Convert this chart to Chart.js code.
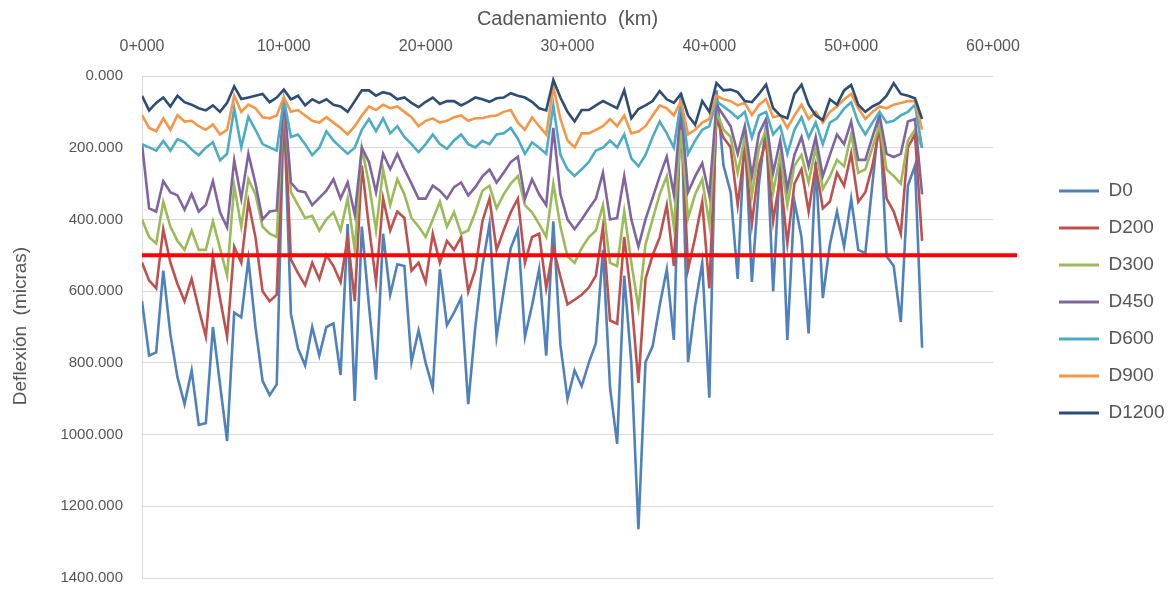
<!DOCTYPE html>
<html>
<head>
<meta charset="utf-8">
<title>Deflexiones</title>
<script src="https://cdn.jsdelivr.net/npm/chart.js@4.4.1/dist/chart.umd.min.js"></script>
<style>
  html, body { margin: 0; padding: 0; background: #ffffff; }
  #wrap { position: relative; width: 1174px; height: 606px; }
</style>
</head>
<body>
<div id="wrap"><canvas id="chart" width="1174" height="606"></canvas></div>
<script>
// Chainage of each measuring station (km)
const chainage = [
  0, 0.5, 1, 1.5, 2, 2.5, 3, 3.5, 4, 4.5,
  5, 5.5, 6, 6.5, 7, 7.5, 8, 8.5, 9, 9.5,
  10, 10.5, 11, 11.5, 12, 12.5, 13, 13.5, 14, 14.5,
  15, 15.5, 16, 16.5, 17, 17.5, 18, 18.5, 19, 19.5,
  20, 20.5, 21, 21.5, 22, 22.5, 23, 23.5, 24, 24.5,
  25, 25.5, 26, 26.5, 27, 27.5, 28, 28.5, 29, 29.5,
  30, 30.5, 31, 31.5, 32, 32.5, 33, 33.5, 34, 34.5,
  35, 35.5, 36, 36.5, 37, 37.5, 38, 38.5, 39, 39.5,
  40, 40.5, 41, 41.5, 42, 42.5, 43, 43.5, 44, 44.5,
  45, 45.5, 46, 46.5, 47, 47.5, 48, 48.5, 49, 49.5,
  50, 50.5, 51, 51.5, 52, 52.5, 53, 53.5, 54, 54.5,
  55
];

// Deflections per geophone (micras)
const d0 = [
  628, 780, 771, 543, 720, 840, 915, 821, 973, 968,
  700, 860, 1018, 660, 673, 512, 700, 850, 890, 860,
  80, 664, 760, 807, 700, 780, 700, 690, 834, 413,
  906, 420, 640, 847, 440, 610, 525, 530, 798, 709,
  800, 870, 539, 695, 660, 619, 915, 700, 530, 413,
  727, 600, 480, 430, 727, 640, 539, 780, 405, 750,
  901, 821, 865, 800, 745, 485, 870, 1026, 557, 800,
  1264, 798, 754, 640, 539, 736, 47, 798, 640, 521,
  897, 40, 250, 324, 566, 150, 574, 300, 136, 601,
  230, 736, 350, 450, 718, 240, 619, 470, 378, 476,
  342, 485, 494, 300, 109, 503, 530, 686, 306, 250,
  758
];
const d200 = [
  520, 570, 592, 427, 520, 580, 628, 566, 650, 727,
  503, 620, 727, 476, 521, 351, 450, 600, 628, 610,
  64, 512, 550, 583, 521, 566, 500, 530, 575, 449,
  628, 250, 420, 575, 342, 431, 378, 396, 543, 521,
  575, 440, 521, 460, 485, 449, 601, 540, 405, 342,
  485, 430, 380, 342, 521, 449, 440, 592, 480, 560,
  637, 624, 610, 590, 557, 420, 682, 691, 449, 620,
  856, 566, 500, 450, 360, 530, 100, 539, 450, 351,
  592, 118, 172, 199, 360, 200, 413, 250, 180, 405,
  280, 467, 300, 260, 378, 250, 369, 350, 270, 306,
  216, 351, 324, 250, 145, 342, 378, 440, 199, 163,
  460
];
const d300 = [
  400, 449, 467, 351, 420, 460, 485, 431, 485, 485,
  405, 480, 557, 306, 420, 288, 330, 420, 440, 449,
  64, 324, 360, 396, 390, 431, 400, 380, 431, 342,
  485, 200, 300, 431, 261, 360, 288, 330, 396, 420,
  449, 400, 351, 420, 380, 440, 431, 380, 320, 306,
  369, 330, 300, 279, 360, 380, 413, 449, 300, 420,
  503, 521, 480, 450, 431, 360, 521, 530, 378, 520,
  646, 470, 400, 330, 279, 420, 150, 396, 330, 288,
  413, 100, 150, 170, 270, 170, 333, 200, 150, 324,
  220, 360, 250, 220, 297, 200, 315, 280, 234, 252,
  163, 270, 260, 200, 136, 261, 279, 300, 180, 150,
  200
];
const d450 = [
  190, 369, 378, 293, 324, 333, 373, 329, 378, 360,
  293, 380, 422, 235, 342, 217, 300, 400, 378, 375,
  60, 297, 320, 324, 360, 340, 320, 288, 342, 297,
  387, 200, 240, 324, 217, 260, 217, 260, 300, 342,
  342, 306, 320, 342, 310, 297, 333, 310, 280, 261,
  297, 270, 240, 225, 342, 288, 330, 360, 145, 330,
  400, 427, 400, 370, 342, 270, 400, 396, 279, 400,
  476, 400, 340, 280, 225, 330, 80, 324, 280, 243,
  333, 80, 110, 140, 217, 140, 279, 160, 120, 270,
  180, 315, 220, 170, 252, 170, 279, 220, 163, 190,
  127, 234, 234, 170, 109, 217, 226, 217, 127, 120,
  330
];
const d600 = [
  190, 199, 208, 181, 208, 176, 185, 205, 221, 200,
  185, 235, 217, 91, 199, 114, 150, 190, 199, 208,
  64, 170, 163, 190, 221, 200, 154, 180, 199, 217,
  200, 150, 120, 154, 118, 160, 140, 170, 190, 212,
  190, 163, 190, 203, 180, 163, 190, 199, 181, 190,
  163, 160, 145, 175, 217, 185, 200, 217, 82, 220,
  260, 279, 260, 240, 208, 200, 180, 199, 163, 230,
  252, 220, 170, 127, 160, 200, 70, 217, 180, 150,
  140, 70, 85, 100, 118, 100, 172, 110, 100, 163,
  140, 217, 150, 115, 172, 130, 190, 130, 118, 91,
  73, 130, 163, 130, 100, 130, 125, 110, 100, 80,
  200
];
const d900 = [
  109, 145, 154, 118, 150, 109, 127, 125, 140, 150,
  135, 163, 150, 55, 100, 80, 90, 115, 118, 110,
  60, 100, 95, 110, 125, 130, 115, 130, 145, 163,
  140, 110, 85, 95, 80, 90, 85, 100, 115, 140,
  125, 118, 130, 125, 115, 110, 125, 118, 118, 112,
  110, 100, 95, 130, 150, 115, 140, 163, 29, 120,
  180, 199, 160, 160, 150, 140, 120, 140, 110, 160,
  155, 140, 110, 82, 90, 110, 70, 163, 150, 130,
  120, 55, 65, 70, 82, 75, 109, 80, 65, 115,
  110, 145, 110, 80, 120, 100, 130, 100, 85, 65,
  50, 90, 120, 100, 85, 90, 80, 75, 70, 70,
  150
];
const d1200 = [
  55, 96, 75, 60, 85, 55, 73, 80, 90, 96,
  82, 100, 75, 29, 64, 60, 55, 50, 73, 60,
  38, 65, 55, 82, 65, 75, 65, 80, 85, 100,
  70, 40, 40, 55, 45, 50, 65, 60, 75, 87,
  72, 60, 78, 70, 70, 82, 72, 60, 65, 72,
  62, 60, 48, 55, 60, 72, 90, 96, 11, 60,
  100, 127, 95, 95, 82, 70, 80, 90, 40, 118,
  92, 82, 70, 42, 65, 75, 50, 110, 136, 70,
  100, 20, 40, 38, 45, 70, 73, 50, 24, 90,
  110, 118, 50, 24, 80, 110, 123, 65, 80, 40,
  25, 80, 100, 85, 75, 55, 20, 50, 55, 62,
  120
];

const seriesNames = ['D0', 'D200', 'D300', 'D450', 'D600', 'D900', 'D1200'];
const seriesValues = [d0, d200, d300, d450, d600, d900, d1200];
const seriesColors = ['#4F81BD', '#C0504D', '#9BBB59', '#8064A2', '#4BACC6', '#F79646', '#2C4D75'];

// Axis ticks
const xTickValues = [0, 10, 20, 30, 40, 50, 60];
const xTickLabels = ['0+000', '10+000', '20+000', '30+000', '40+000', '50+000', '60+000'];
const yTickValues = [0, 200, 400, 600, 800, 1000, 1200, 1400];
const yTickLabels = ['0.000', '200.000', '400.000', '600.000', '800.000', '1000.000', '1200.000', '1400.000'];

// Admissible deflection limit and the chainage span of its marker line
const limitValue = 500;
const limitSpan = [0, 61.7];

const xTitle = 'Cadenamiento  (km)';
const yTitle = 'Deflexión  (micras)';

const textColor = '#555555';
const gridColor = '#D9D9D9';
const fontFamily = '"Liberation Sans", Arial, sans-serif';
const xTickSize = 16;
const yTickSize = 15;
const xTitleSize = 20;
const yTitleSize = 19;
const legendSize = 19;

const datasets = seriesNames.map((name, s) => ({
  label: name,
  data: chainage.map((x, i) => ({ x: x, y: seriesValues[s][i] })),
  borderColor: seriesColors[s],
  backgroundColor: seriesColors[s],
  borderWidth: 2.6,
  pointRadius: 0,
  tension: 0,
  order: seriesNames.length - s
}));

datasets.push({
  label: 'Límite',
  data: limitSpan.map(x => ({ x: x, y: limitValue })),
  borderColor: '#FF0000',
  backgroundColor: '#FF0000',
  borderWidth: 4,
  pointRadius: 0,
  clip: false,
  order: -1
});

// Places the legend column a little away from the plot
const legendGap = {
  id: 'legendGap',
  afterLayout(chart) {
    const lg = chart.legend;
    if (!lg) return;
    const w = lg.right - lg.left;
    lg.left = chart.chartArea.right + 48;
    lg.right = lg.left + w;
    lg.top += 3;
    lg.bottom += 3;
  }
};

// Vertical axis title, centred on the labelled band of the axis
const yAxisTitle = {
  id: 'yAxisTitle',
  afterDraw(chart) {
    const ctx = chart.ctx;
    ctx.save();
    ctx.translate(21, 326);
    ctx.rotate(-Math.PI / 2);
    ctx.fillStyle = textColor;
    ctx.font = yTitleSize + 'px ' + fontFamily;
    ctx.textAlign = 'center';
    ctx.textBaseline = 'middle';
    ctx.fillText(yTitle, 0, 0);
    ctx.restore();
  }
};

new Chart(document.getElementById('chart'), {
  type: 'line',
  data: { datasets: datasets },
  plugins: [legendGap, yAxisTitle],
  options: {
    responsive: false,
    animation: false,
    devicePixelRatio: 1,
    layout: { padding: { left: 0, right: 51, top: 0, bottom: 8 } },
    plugins: {
      tooltip: { enabled: false },
      legend: {
        position: 'right',
        maxWidth: 130,
        labels: {
          color: textColor,
          font: { family: fontFamily, size: legendSize },
          boxWidth: 40,
          boxHeight: 3,
          padding: 18,
          filter: item => seriesNames.includes(item.text),
          sort: (a, b) => a.datasetIndex - b.datasetIndex,
          generateLabels(chart) {
            return Chart.defaults.plugins.legend.labels.generateLabels(chart).map(l => {
              l.fillStyle = l.strokeStyle;
              l.lineWidth = 0;
              return l;
            });
          }
        }
      }
    },
    scales: {
      x: {
        type: 'linear',
        position: 'top',
        min: 0,
        max: 60,
        afterFit(scale) { scale.height = 76; },
        afterBuildTicks(scale) { scale.ticks = xTickValues.map(v => ({ value: v })); },
        grid: { display: false, drawTicks: false },
        border: { display: false },
        ticks: {
          color: textColor,
          font: { family: fontFamily, size: xTickSize },
          padding: 20,
          maxRotation: 0,
          autoSkip: false,
          callback: v => xTickLabels[xTickValues.indexOf(v)]
        },
        title: {
          display: true,
          text: xTitle,
          color: textColor,
          font: { family: fontFamily, size: xTitleSize },
          padding: { top: 7, bottom: 0 }
        }
      },
      y: {
        type: 'linear',
        position: 'left',
        reverse: true,
        min: 0,
        max: 1400,
        afterFit(scale) { scale.width = 142; },
        afterBuildTicks(scale) { scale.ticks = yTickValues.map(v => ({ value: v })); },
        grid: { color: gridColor, lineWidth: 1, drawTicks: false },
        border: { display: true, color: gridColor, width: 1 },
        ticks: {
          color: textColor,
          font: { family: fontFamily, size: yTickSize },
          padding: 19,
          autoSkip: false,
          callback: v => yTickLabels[yTickValues.indexOf(v)]
        },
        title: { display: false }
      }
    }
  }
});
</script>
</body>
</html>
